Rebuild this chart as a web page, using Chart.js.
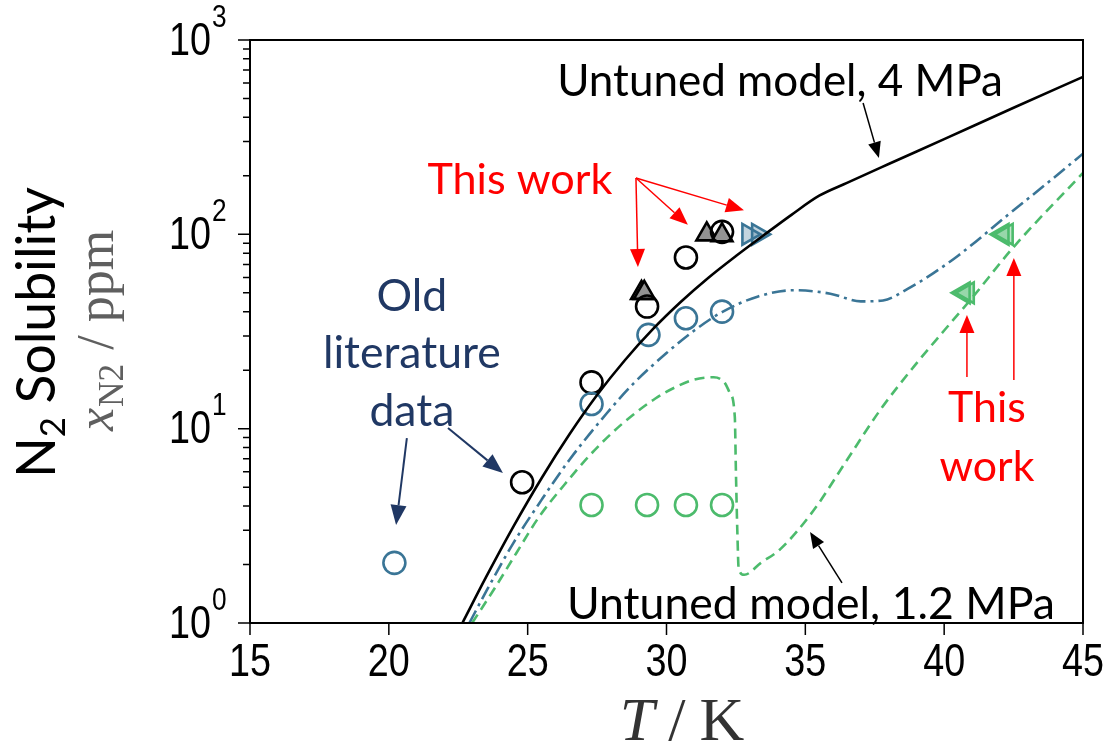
<!DOCTYPE html>
<html>
<head>
<meta charset="utf-8">
<script src="https://cdn.jsdelivr.net/npm/chart.js@4.4.1/dist/chart.umd.min.js"></script>
<style>
  html, body { margin: 0; padding: 0; background: #fff; }
</style>
</head>
<body>
<canvas id="solChart" width="1111" height="756"></canvas>
<script>
// axis ticks
const xTicks = [15, 20, 25, 30, 35, 40, 45];
const yDecades = [0, 1, 2, 3];

// untuned model, 4 MPa (T in K, x_N2 in ppm)
const model4T = [22.65, 23.5, 24.5, 25.5, 26.5, 27.5, 28.5, 29.5, 30.5, 31.5, 32.5, 33.5, 34.5, 35.5, 36.5, 38.0, 40.0, 42.5, 45.0];
const model4Y = [1.0, 1.72, 3.16, 5.56, 9.33, 14.9, 22.5, 32.4, 44.7, 59.6, 77.3, 98.9, 126, 158, 184, 230, 309, 448, 646];

// blue dash-dot model
const blueT = [22.9, 23.5, 24.5, 25.5, 26.5, 27.85, 28.8, 30.0, 31.0, 32.0, 33.3, 34.6, 35.9, 37.0, 37.8, 38.7, 39.6, 40.5, 42.3, 43.6, 45.0];
const blueY = [1.0, 1.45, 2.6, 4.3, 6.9, 12.0, 17.0, 24.5, 32.0, 39.8, 47.9, 51.6, 49.5, 45.2, 45.7, 52.5, 63, 77.6, 126, 178, 260];

// untuned model, 1.2 MPa
const model12T = [23.0, 23.8, 24.6, 25.4, 26.3, 27.2, 28.0, 28.8, 29.6, 30.3, 31.0, 31.7, 32.1, 32.28, 32.46, 32.5, 32.55, 32.6, 32.8, 33.4, 34.1, 35.3, 36.5, 37.7, 38.9, 40.0, 41.0, 42.5, 45.0];
const model12Y = [1.0, 1.5, 2.3, 3.5, 5.1, 7.2, 9.4, 11.8, 14.3, 16.3, 17.9, 18.4, 17.2, 15.3, 11.5, 6.0, 3.0, 1.9, 1.77, 2.04, 2.4, 3.8, 6.9, 12.5, 20.8, 32, 47, 86, 207];

// measured points
const blackCircT = [24.8, 27.3, 29.3, 30.7, 32.0];
const blackCircY = [5.3, 17.3, 42.5, 76, 103];
const blueCircT = [20.2, 27.3, 29.35, 30.7, 32.0];
const blueCircY = [2.04, 13.4, 30.4, 37, 40];
const greenCircT = [27.3, 29.3, 30.7, 32.0];
const greenCircY = [4.05, 4.05, 4.05, 4.05];
const grayTriT = [29.1, 29.2, 31.45, 32.0];
const grayTriY = [50, 50, 100, 99];
const blueTriT = [32.95, 33.3];
const blueTriY = [100, 100];
const greenTriT = [40.7, 40.85, 42.1, 42.25];
const greenTriY = [50, 50, 100, 100];

const BLUE = '#3a7596';
const GREEN = '#4cbb6c';
const NAVY = '#203864';
const RED = '#ff0000';

const zip = (xs, ys) => xs.map((x, i) => ({ x: x, y: ys[i] }));

function arrow(ctx, a, b, color, lw, head, hw) {
    const ang = Math.atan2(b.y - a.y, b.x - a.x);
    const bx = b.x - Math.cos(ang) * head, by = b.y - Math.sin(ang) * head;
    ctx.strokeStyle = color; ctx.fillStyle = color; ctx.lineWidth = lw;
    ctx.beginPath(); ctx.moveTo(a.x, a.y); ctx.lineTo(bx, by); ctx.stroke();
    ctx.beginPath(); ctx.moveTo(b.x, b.y);
    ctx.lineTo(bx + Math.sin(ang) * hw / 2, by - Math.cos(ang) * hw / 2);
    ctx.lineTo(bx - Math.sin(ang) * hw / 2, by + Math.cos(ang) * hw / 2);
    ctx.closePath(); ctx.fill();
}

function fitSize(ctx, text, family, width) {
    ctx.font = '100px ' + family;
    return 100 * width / ctx.measureText(text).width;
}

function condText(ctx, s, x, y, size, align) {
    ctx.save();
    ctx.font = size + 'px "Liberation Sans", Arial, sans-serif';
    ctx.translate(x, y); ctx.scale(0.82, 1);
    ctx.textAlign = align; ctx.fillText(s, 0, 0);
    ctx.restore();
}

const SANS = 'Lato, "Open Sans", sans-serif';
const SERIF = '"Liberation Serif", "DejaVu Serif", serif';

const notes = {
    id: 'notes',
    afterDatasetsDraw(chart) {
        const ctx = chart.ctx, a = chart.chartArea, xs = chart.scales.x, ys = chart.scales.y;
        const P = (t, v) => ({ x: xs.getPixelForValue(t), y: ys.getPixelForValue(v) });
        ctx.save();

        // frame and ticks
        ctx.strokeStyle = '#000'; ctx.lineWidth = 2;
        ctx.strokeRect(a.left, a.top, a.right - a.left, a.bottom - a.top);
        ctx.lineWidth = 1.5;
        ctx.beginPath();
        xTicks.forEach(t => {
            const x = xs.getPixelForValue(t);
            ctx.moveTo(x, a.bottom); ctx.lineTo(x, a.bottom + 12);
        });
        yDecades.forEach(d => {
            for (let k = 1; k <= 9; k++) {
                const v = k * Math.pow(10, d);
                if (v > 1000) break;
                const y = ys.getPixelForValue(v);
                ctx.moveTo(a.left, y); ctx.lineTo(a.left - (k === 1 ? 12 : 7), y);
            }
        });
        ctx.stroke();

        // tick labels
        ctx.fillStyle = '#000';
        ctx.textBaseline = 'middle';
        xTicks.forEach(t => condText(ctx, String(t), xs.getPixelForValue(t), a.bottom + 40, 46, 'center'));
        yDecades.forEach(d => {
            const y = ys.getPixelForValue(Math.pow(10, d));
            condText(ctx, '10', a.left - 39, y + 2, 46, 'right');
            condText(ctx, String(d), a.left - 38, y - 22, 32, 'left');
        });

        // x title: T / K
        ctx.textBaseline = 'alphabetic';
        ctx.fillStyle = '#333';
        const fs = 62;
        ctx.font = 'italic ' + fs + 'px ' + SERIF;
        const wT = ctx.measureText('T').width;
        ctx.font = fs + 'px ' + SERIF;
        const wS = ctx.measureText('/').width, wK = ctx.measureText('K').width;
        const gap = 14;
        let x0 = 682 - (wT + wS + wK + 2 * gap) / 2;
        ctx.textAlign = 'left';
        ctx.font = 'italic ' + fs + 'px ' + SERIF;
        ctx.fillText('T', x0, 740);
        ctx.font = fs + 'px ' + SERIF;
        ctx.fillText('/', x0 + wT + gap, 740);
        ctx.fillText('K', x0 + wT + wS + 2 * gap, 740);

        // y titles (rotated)
        const cy = (a.top + a.bottom) / 2;
        ctx.save();
        ctx.translate(55, cy + 1);
        ctx.rotate(-Math.PI / 2);
        ctx.fillStyle = '#000';
        let s = fitSize(ctx, 'N2 Solubility', SANS, 302);
        ctx.font = s + 'px ' + SANS;
        const wN = ctx.measureText('N').width;
        const wSol = ctx.measureText(' Solubility').width;
        ctx.font = (s * 0.65) + 'px ' + SANS;
        const w2 = ctx.measureText('2').width;
        let tx = -(wN + w2 + wSol) / 2;
        ctx.font = s + 'px ' + SANS; ctx.fillText('N', tx, 0);
        ctx.font = (s * 0.65) + 'px ' + SANS; ctx.fillText('2', tx + wN, s * 0.18);
        ctx.font = s + 'px ' + SANS; ctx.fillText(' Solubility', tx + wN + w2, 0);
        ctx.restore();

        ctx.save();
        ctx.translate(113, cy);
        ctx.rotate(-Math.PI / 2);
        ctx.fillStyle = '#5f5f5f';
        const ms = 52;
        ctx.font = 'italic ' + ms + 'px ' + SERIF;
        const wx = ctx.measureText('x').width;
        ctx.font = (ms * 0.68) + 'px ' + SERIF;
        const wsub = ctx.measureText('N2').width;
        ctx.font = ms + 'px ' + SERIF;
        const wp = ctx.measureText(' / ppm').width;
        tx = -(wx + wsub + wp) / 2;
        ctx.font = 'italic ' + ms + 'px ' + SERIF; ctx.fillText('x', tx, 0);
        ctx.font = (ms * 0.68) + 'px ' + SERIF; ctx.fillText('N2', tx + wx + 1, ms * 0.2);
        ctx.font = ms + 'px ' + SERIF; ctx.fillText(' / ppm', tx + wx + wsub + 2, 0);
        ctx.restore();

        // annotations
        ctx.textAlign = 'center';
        ctx.textBaseline = 'middle';
        let p;

        ctx.fillStyle = '#000';
        s = fitSize(ctx, 'Untuned model, 4 MPa', SANS, 446);
        ctx.font = s + 'px ' + SANS;
        p = P(34.09, 608); ctx.fillText('Untuned model, 4 MPa', p.x, p.y);
        arrow(ctx, P(37.08, 474), P(37.65, 247), '#000', 1.5, 16, 13);

        s = fitSize(ctx, 'Untuned model, 1.2 MPa', SANS, 488);
        ctx.font = s + 'px ' + SANS;
        p = P(35.2, 1.238); ctx.fillStyle = '#000'; ctx.fillText('Untuned model, 1.2 MPa', p.x, p.y);
        arrow(ctx, P(36.32, 1.607), P(35.17, 2.94), '#000', 1.5, 16, 13);

        ctx.fillStyle = RED;
        s = fitSize(ctx, 'This work', SANS, 185);
        ctx.font = s + 'px ' + SANS;
        p = P(24.72, 190.5); ctx.fillText('This work', p.x, p.y);
        const src = P(28.9, 195);
        arrow(ctx, src, P(28.97, 67.9), RED, 1.5, 18, 15);
        arrow(ctx, src, P(30.77, 112), RED, 1.5, 18, 15);
        arrow(ctx, src, P(32.79, 133), RED, 1.5, 18, 15);

        s = fitSize(ctx, 'work', SANS, 95);
        ctx.font = s + 'px ' + SANS;
        ctx.fillStyle = RED;
        p = P(41.54, 12.8); ctx.fillText('This', p.x, p.y);
        p = P(41.54, 6.35); ctx.fillText('work', p.x, p.y);
        arrow(ctx, P(40.82, 18.45), P(40.82, 38.5), RED, 1.5, 18, 15);
        arrow(ctx, P(42.51, 17.8), P(42.51, 75.5), RED, 1.5, 18, 15);

        ctx.fillStyle = NAVY;
        s = fitSize(ctx, 'literature', SANS, 178);
        ctx.font = s + 'px ' + SANS;
        p = P(20.83, 47.6); ctx.fillText('Old', p.x, p.y);
        p = P(20.83, 24.2); ctx.fillText('literature', p.x, p.y);
        p = P(20.83, 12.3); ctx.fillText('data', p.x, p.y);
        arrow(ctx, P(20.65, 8.95), P(20.26, 3.19), NAVY, 2, 20, 16);
        arrow(ctx, P(22.13, 10.08), P(24.11, 5.91), NAVY, 2, 20, 16);

        ctx.restore();
    }
};

const lineStyle = (data, color, dash) => ({
    type: 'line', data: data, showLine: true, borderColor: color, borderWidth: 2.6,
    borderDash: dash, pointRadius: 0, cubicInterpolationMode: 'monotone', fill: false
});
const markStyle = (data, color, fill, style, r, rot) => ({
    type: 'scatter', data: data, showLine: false, pointStyle: style, pointRadius: r,
    pointRotation: rot || 0, borderColor: color, pointBorderColor: color,
    pointBackgroundColor: fill, pointBorderWidth: 2.6, pointHoverRadius: r
});

const ctx = document.getElementById('solChart').getContext('2d');
const solChart = new Chart(ctx, {
    data: {
        datasets: [
            lineStyle(zip(model12T, model12Y), GREEN, [10, 6]),
            lineStyle(zip(blueT, blueY), BLUE, [14, 5, 3, 5]),
            lineStyle(zip(model4T, model4Y), '#000', []),
            markStyle(zip(greenCircT, greenCircY), GREEN, 'rgba(0,0,0,0)', 'circle', 11),
            markStyle(zip(blueCircT, blueCircY), BLUE, 'rgba(0,0,0,0)', 'circle', 11),
            markStyle(zip(blackCircT, blackCircY), '#000', 'rgba(0,0,0,0)', 'circle', 11),
            markStyle(zip(grayTriT, grayTriY), '#000', '#929292', 'triangle', 12),
            markStyle(zip(blueTriT, blueTriY), BLUE, 'rgba(58,117,150,0.3)', 'triangle', 12, 90),
            markStyle(zip(greenTriT, greenTriY), GREEN, 'rgba(76,187,108,0.35)', 'triangle', 12, -90)
        ]
    },
    options: {
        responsive: false,
        animation: false,
        devicePixelRatio: 1,
        layout: { padding: { left: 130, right: 28, top: 40, bottom: 40 } },
        plugins: { legend: { display: false }, tooltip: { enabled: false } },
        scales: {
            x: {
                type: 'linear', min: 15, max: 45,
                grid: { display: false }, border: { display: false },
                ticks: { display: false },
                afterFit: s => { s.height = 93; }
            },
            y: {
                type: 'logarithmic', min: 1, max: 1000,
                grid: { display: false }, border: { display: false },
                ticks: { display: false },
                afterFit: s => { s.width = 120; }
            }
        }
    },
    plugins: [notes]
});
</script>
</body>
</html>
